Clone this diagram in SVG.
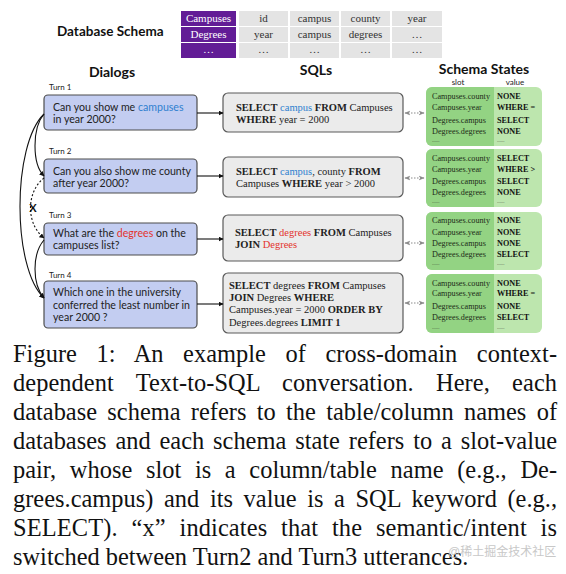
<svg xmlns="http://www.w3.org/2000/svg" width="566" height="574" viewBox="0 0 566 574">
<style>
.sans{font-family:Lato,"Liberation Sans",sans-serif}
.serif{font-family:"Liberation Serif","Times New Roman",serif}
.hdr{font-family:Lato,"Liberation Sans",sans-serif;font-weight:bold;font-size:14px;fill:#111;text-anchor:middle}
.turn{font-family:Lato,"Liberation Sans",sans-serif;font-size:8px;fill:#222}
.dlg{fill:#c3cdf1;stroke:#4d4d4d;stroke-width:1.2}
.dt{font-family:Lato,"Liberation Sans",sans-serif;font-size:10.6px;fill:#222}
.sql{fill:#ebebeb;stroke:#5a5a5a;stroke-width:1.2}
.st{font-family:"Liberation Serif","Times New Roman",serif;font-size:10.5px;fill:#222}
.b{font-weight:bold}
.blue{fill:#2f7fcf}
.red{fill:#e3332d}
.pc{fill:#621c96}
.gc{fill:#e4e4e4}
.tw{font-family:"Liberation Serif",serif;font-size:11px;fill:#fff;text-anchor:middle}
.tg{font-family:"Liberation Serif",serif;font-size:11px;fill:#333;text-anchor:middle}
.gl{fill:#93d383}
.gr{fill:#bde6ae}
.ss{font-family:"Liberation Serif",serif;font-size:8.2px;fill:#1d2b18}
.sv{font-family:"Liberation Serif",serif;font-size:8.2px;fill:#111;font-weight:bold}
.dots{font-family:"Liberation Serif",serif;font-size:5px;fill:#1d2b18}
.arr{fill:none;stroke:#111;stroke-width:1.1}
.dash{fill:none;stroke:#8a8a8a;stroke-width:1;stroke-dasharray:1.5 1.5}
.cap{font-family:"Liberation Serif","Times New Roman",serif;font-size:24.4px;fill:#111}
</style>
<defs>
<marker id="ah" viewBox="0 0 10 10" refX="9" refY="5" markerWidth="5" markerHeight="5" orient="auto" markerUnits="userSpaceOnUse">
<path d="M0,0 L10,5 L0,10 z" fill="#111"/>
</marker>
<marker id="gh" viewBox="0 0 10 10" refX="9" refY="5" markerWidth="6" markerHeight="6" orient="auto-start-reverse" markerUnits="userSpaceOnUse">
<path d="M0,1 L10,5 L0,9 L3,5 z" fill="#8a8a8a"/>
</marker>
</defs>

<g id="database-schema">
<text class="sans" x="57" y="36" font-size="13.5" font-weight="bold" fill="#111">Database Schema</text>
<rect class="pc" x="181" y="11" width="55" height="15"/>
<rect class="pc" x="181" y="27" width="55" height="15"/>
<rect class="pc" x="181" y="43" width="55" height="15"/>
<rect class="gc" x="239" y="11" width="49" height="15"/>
<rect class="gc" x="290" y="11" width="49" height="15"/>
<rect class="gc" x="341" y="11" width="49" height="15"/>
<rect class="gc" x="392" y="11" width="50" height="15"/>
<rect class="gc" x="239" y="27" width="49" height="15"/>
<rect class="gc" x="290" y="27" width="49" height="15"/>
<rect class="gc" x="341" y="27" width="49" height="15"/>
<rect class="gc" x="392" y="27" width="50" height="15"/>
<rect class="gc" x="239" y="43" width="49" height="15"/>
<rect class="gc" x="290" y="43" width="49" height="15"/>
<rect class="gc" x="341" y="43" width="49" height="15"/>
<rect class="gc" x="392" y="43" width="50" height="15"/>
<text class="tw" x="208.5" y="22">Campuses</text>
<text class="tw" x="208.5" y="38">Degrees</text>
<text class="tw" x="208.5" y="53">…</text>
<text class="tg" x="263.5" y="22">id</text>
<text class="tg" x="314.5" y="22">campus</text>
<text class="tg" x="365.5" y="22">county</text>
<text class="tg" x="417" y="22">year</text>
<text class="tg" x="263.5" y="38">year</text>
<text class="tg" x="314.5" y="38">campus</text>
<text class="tg" x="365.5" y="38">degrees</text>
<text class="tg" x="417" y="38">…</text>
<text class="tg" x="263.5" y="53">…</text>
<text class="tg" x="314.5" y="53">…</text>
<text class="tg" x="365.5" y="53">…</text>
<text class="tg" x="417" y="53">…</text>
</g>

<g id="headers">
<text class="hdr" x="112" y="77">Dialogs</text>
<text class="hdr" x="316" y="75">SQLs</text>
<text class="hdr" x="484" y="74">Schema States</text>
<text class="sans" x="458" y="85" font-size="8" fill="#222" text-anchor="middle">slot</text>
<text class="sans" x="515" y="85" font-size="8" fill="#222" text-anchor="middle">value</text>
</g>

<g id="turn1">
<text class="turn" x="49" y="90">Turn 1</text>
<rect class="dlg" x="44" y="95" width="153" height="35" rx="4"/>
<text class="dt" x="53" y="111">Can you show me <tspan class="blue">campuses</tspan></text>
<text class="dt" x="53" y="123">in year 2000?</text>
</g>
<g id="turn2">
<text class="turn" x="49" y="154">Turn 2</text>
<rect class="dlg" x="44" y="159" width="153" height="34" rx="4"/>
<text class="dt" x="53" y="175">Can you also show me county</text>
<text class="dt" x="53" y="187">after year 2000?</text>
</g>
<g id="turn3">
<text class="turn" x="49" y="218">Turn 3</text>
<rect class="dlg" x="44" y="223" width="153" height="32" rx="4"/>
<text class="dt" x="53" y="237">What are the <tspan class="red">degrees</tspan> on the</text>
<text class="dt" x="53" y="249">campuses list?</text>
</g>
<g id="turn4">
<text class="turn" x="49" y="278">Turn 4</text>
<rect class="dlg" x="44" y="281" width="153" height="47" rx="4"/>
<text class="dt" x="53" y="296">Which one in the university</text>
<text class="dt" x="53" y="309">conferred the least number in</text>
<text class="dt" x="53" y="321">year 2000 ?</text>
</g>

<g id="sql1">
<rect class="sql" x="223" y="93" width="180" height="39" rx="5"/>
<text class="st" x="236" y="111"><tspan class="b">SELECT</tspan> <tspan class="blue">campus</tspan> <tspan class="b">FROM</tspan> Campuses</text>
<text class="st" x="236" y="123"><tspan class="b">WHERE</tspan> year = 2000</text>
</g>
<g id="sql2">
<rect class="sql" x="223" y="157" width="180" height="40" rx="5"/>
<text class="st" x="236" y="175"><tspan class="b">SELECT</tspan> <tspan class="blue">campus</tspan>, county <tspan class="b">FROM</tspan></text>
<text class="st" x="236" y="187">Campuses <tspan class="b">WHERE</tspan> year &gt; 2000</text>
</g>
<g id="sql3">
<rect class="sql" x="223" y="215" width="180" height="46" rx="5"/>
<text class="st" x="235" y="236"><tspan class="b">SELECT</tspan> <tspan class="red">degrees</tspan> <tspan class="b">FROM</tspan> Campuses</text>
<text class="st" x="235" y="248"><tspan class="b">JOIN</tspan> <tspan class="red">Degrees</tspan></text>
</g>
<g id="sql4">
<rect class="sql" x="223" y="273" width="180" height="60" rx="5"/>
<text class="st" x="229" y="289"><tspan class="b">SELECT</tspan> degrees <tspan class="b">FROM</tspan> Campuses</text>
<text class="st" x="229" y="301"><tspan class="b">JOIN</tspan> Degrees <tspan class="b">WHERE</tspan></text>
<text class="st" x="229" y="313">Campuses.year = 2000 <tspan class="b">ORDER BY</tspan></text>
<text class="st" x="229" y="326">Degrees.degrees <tspan class="b">LIMIT 1</tspan></text>
</g>

<g id="state1">
<rect class="gr" x="426" y="87" width="116" height="59" rx="6"/>
<path class="gl" d="M432,87 H494 V146 H432 A6,6 0 0 1 426,140 V93 A6,6 0 0 1 432,87 Z"/>
<text class="ss" x="432" y="99">Campuses.county</text><text class="sv" x="497" y="99">NONE</text>
<text class="ss" x="432" y="110">Campuses.year</text><text class="sv" x="497" y="110">WHERE =</text>
<text class="ss" x="432" y="123">Degrees.campus</text><text class="sv" x="497" y="123">SELECT</text>
<text class="ss" x="432" y="134">Degrees.degrees</text><text class="sv" x="497" y="134">NONE</text>
<text class="dots" x="432" y="142">......</text><text class="dots" x="497" y="142">......</text>
</g>
<g id="state2">
<rect class="gr" x="426" y="149" width="116" height="58" rx="6"/>
<path class="gl" d="M432,149 H494 V207 H432 A6,6 0 0 1 426,201 V155 A6,6 0 0 1 432,149 Z"/>
<text class="ss" x="432" y="161">Campuses.county</text><text class="sv" x="497" y="161">SELECT</text>
<text class="ss" x="432" y="172">Campuses.year</text><text class="sv" x="497" y="172">WHERE &gt;</text>
<text class="ss" x="432" y="184">Degrees.campus</text><text class="sv" x="497" y="184">SELECT</text>
<text class="ss" x="432" y="195">Degrees.degrees</text><text class="sv" x="497" y="195">NONE</text>
<text class="dots" x="432" y="203">......</text><text class="dots" x="497" y="203">......</text>
</g>
<g id="state3">
<rect class="gr" x="426" y="212" width="116" height="58" rx="6"/>
<path class="gl" d="M432,212 H494 V270 H432 A6,6 0 0 1 426,264 V218 A6,6 0 0 1 432,212 Z"/>
<text class="ss" x="432" y="223">Campuses.county</text><text class="sv" x="497" y="223">NONE</text>
<text class="ss" x="432" y="235">Campuses.year</text><text class="sv" x="497" y="235">NONE</text>
<text class="ss" x="432" y="246">Degrees.campus</text><text class="sv" x="497" y="246">NONE</text>
<text class="ss" x="432" y="257">Degrees.degrees</text><text class="sv" x="497" y="257">SELECT</text>
<text class="dots" x="432" y="265">......</text><text class="dots" x="497" y="265">......</text>
</g>
<g id="state4">
<rect class="gr" x="426" y="274" width="116" height="59" rx="6"/>
<path class="gl" d="M432,274 H494 V333 H432 A6,6 0 0 1 426,327 V280 A6,6 0 0 1 432,274 Z"/>
<text class="ss" x="432" y="286">Campuses.county</text><text class="sv" x="497" y="286">NONE</text>
<text class="ss" x="432" y="296">Campuses.year</text><text class="sv" x="497" y="296">WHERE =</text>
<text class="ss" x="432" y="309">Degrees.campus</text><text class="sv" x="497" y="309">NONE</text>
<text class="ss" x="432" y="320">Degrees.degrees</text><text class="sv" x="497" y="320">SELECT</text>
<text class="dots" x="432" y="329">......</text><text class="dots" x="497" y="329">......</text>
</g>

<g id="connectors">
<line class="arr" x1="197" y1="113" x2="223" y2="113" marker-end="url(#ah)"/>
<line class="arr" x1="197" y1="176" x2="223" y2="176" marker-end="url(#ah)"/>
<line class="arr" x1="197" y1="239" x2="223" y2="239" marker-end="url(#ah)"/>
<line class="arr" x1="197" y1="304" x2="223" y2="304" marker-end="url(#ah)"/>
<line class="dash" x1="405" y1="113" x2="424" y2="113" marker-start="url(#gh)" marker-end="url(#gh)"/>
<line class="dash" x1="405" y1="178" x2="424" y2="178" marker-start="url(#gh)" marker-end="url(#gh)"/>
<line class="dash" x1="405" y1="243" x2="424" y2="243" marker-start="url(#gh)" marker-end="url(#gh)"/>
<line class="dash" x1="405" y1="303" x2="424" y2="303" marker-start="url(#gh)" marker-end="url(#gh)"/>
<path class="arr" d="M44,114 C32,128 32,164 44,176" marker-end="url(#ah)"/>
<path class="arr" d="M44,114 C12,145 12,268 44,298" marker-end="url(#ah)"/>
<path fill="none" stroke="#111" stroke-width="1.1" stroke-dasharray="2 2" d="M44,178 C26,192 26,224 44,238" marker-end="url(#ah)"/>
<path class="arr" d="M44,240 C32,254 32,284 44,298" marker-end="url(#ah)"/>
<text class="sans" x="33" y="212" font-size="11" font-weight="bold" fill="#111" text-anchor="middle">X</text>
</g>

<g id="caption">
<text class="cap" x="13" y="362" word-spacing="13.4" textLength="544" lengthAdjust="spacing">Figure 1: An example of cross-domain context-</text>
<text class="cap" x="13" y="391" word-spacing="16.1" textLength="544" lengthAdjust="spacing">dependent Text-to-SQL conversation. Here, each</text>
<text class="cap" x="13" y="420" word-spacing="4.2" textLength="544" lengthAdjust="spacing">database schema refers to the table/column names of</text>
<text class="cap" x="13" y="449" word-spacing="2.8" textLength="544" lengthAdjust="spacing">databases and each schema state refers to a slot-value</text>
<text class="cap" x="13" y="478" word-spacing="7.5" textLength="544" lengthAdjust="spacing">pair, whose slot is a column/table name (e.g., De-</text>
<text class="cap" x="13" y="507" word-spacing="4.5" textLength="544" lengthAdjust="spacing">grees.campus) and its value is a SQL keyword (e.g.,</text>
<text class="cap" x="13" y="536" word-spacing="7.6" textLength="544" lengthAdjust="spacing">SELECT). “x” indicates that the semantic/intent is</text>
<text class="cap" x="13" y="565">switched between Turn2 and Turn3 utterances.</text>
<text x="448" y="556" font-family="'Liberation Sans','Noto Sans CJK SC',sans-serif" font-size="12" fill="#c8c8c8">@稀土掘金技术社区</text>
</g>
</svg>
